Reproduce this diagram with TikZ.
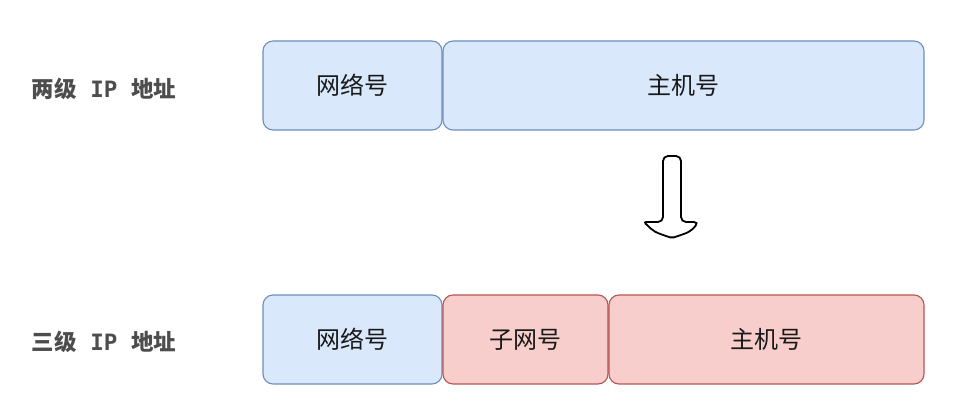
\documentclass[tikz,border=0pt]{standalone}
\usepackage{fontspec}
\setmainfont{Noto Sans CJK SC}
\newfontfamily\labelmono{DejaVu Sans Mono}
\usetikzlibrary{positioning}
\definecolor{netfill}{HTML}{DAE8FC}
\definecolor{netline}{HTML}{6C8EBF}
\definecolor{subfill}{HTML}{F8CECC}
\definecolor{subline}{HTML}{B85450}
\definecolor{labelgray}{HTML}{4D4D4D}
\tikzset{
  field/.style={rounded corners=10pt, line width=1.1pt, inner sep=0pt,
    minimum height=89pt, text=black!90,
    font=\fontsize{24}{28}\selectfont},
  netbox/.style={field, draw=netline, fill=netfill},
  subbox/.style={field, draw=subline, fill=subfill},
  rowlabel/.style={text=labelgray, font=\fontsize{22.5}{26}\selectfont\bfseries}
}
\begin{document}
\begin{tikzpicture}[x=1pt, y=-1pt]
\useasboundingbox (0,0) rectangle (971,419);
% two-level address
\node[netbox, minimum width=179pt] (net1) at (352.5,85.5) {网络号};
\node[netbox, minimum width=481pt] (host1) at (683.5,85.5) {主机号};
\node[rowlabel] (lab1) at (104,89) {两级{\labelmono\bfseries{} IP }地址};
% three-level address
\node[netbox, minimum width=179pt] (net2) at (352.5,339.5) {网络号};
\node[subbox, minimum width=165pt] (sub2) at (525.5,339.5) {子网号};
\node[subbox, minimum width=315pt] (host2) at (766.5,339.5) {主机号};
\node[rowlabel] (lab2) at (104,342) {三级{\labelmono\bfseries{} IP }地址};
% down arrow
\draw[line width=1.8pt, fill=white, rounded corners=5pt]
  (663,156) -- (681,156) -- (681,222) -- (699,222)
  [rounded corners=2pt] .. controls (690,232) .. (672,238)
  .. controls (654,232) .. (644,222) [rounded corners=5pt]
  -- (663,222) -- cycle;
\end{tikzpicture}
\end{document}
